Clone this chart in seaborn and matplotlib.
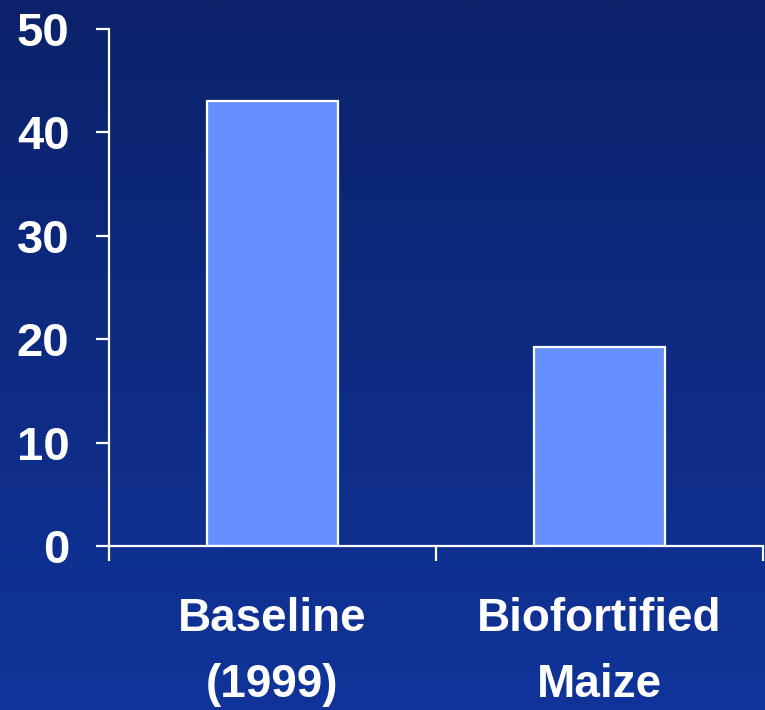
import numpy as np
import matplotlib
matplotlib.use("Agg")
import matplotlib.pyplot as plt
import seaborn as sns

categories = ["Baseline\n(1999)", "Biofortified\nMaize"]
values = [43, 19.2]
yticks = [0, 10, 20, 30, 40, 50]

sns.set_style("ticks")
plt.rcParams['font.family'] = ['Liberation Sans', 'DejaVu Sans']
plt.rcParams['font.weight'] = 'bold'

fig = plt.figure(figsize=(7.65, 7.10), dpi=100)

# gradient background
bg = fig.add_axes([0, 0, 1, 1], zorder=-10)
top = np.array([0x0b, 0x22, 0x6a]) / 255
bot = np.array([0x10, 0x34, 0x9a]) / 255
t = np.linspace(0, 1, 256)[:, None]
grad = (top[None, :] * (1 - t) + bot[None, :] * t)[:, None, :]
bg.imshow(grad, aspect='auto', extent=[0, 1, 0, 1])
bg.set_axis_off()

ax = fig.add_axes([109/765, 1 - 546/710, (763-109)/765, (546-29)/710])
ax.patch.set_alpha(0)

sns.barplot(x=categories, y=values, color="#668fff", saturation=1,
            edgecolor="white", linewidth=1.6, width=0.4, ax=ax)

ax.set_xlim(-0.5, 1.5)
ax.set_ylim(0, 50)
ax.set_yticks(yticks)
ax.set_yticklabels([str(v) for v in yticks])
ax.set_xticks([0, 1])
ax.set_xticklabels(categories)
ax.set_xticks([-0.5, 0.5, 1.5], minor=True)
ax.set_xlabel("")
ax.set_ylabel("")

for s in ["top", "right"]:
    ax.spines[s].set_visible(False)
for s in ["left", "bottom"]:
    ax.spines[s].set_color("white")
    ax.spines[s].set_linewidth(1.6)

ax.tick_params(axis='y', colors='white', direction='out', length=9.5, width=1.6,
               pad=19, labelsize=34)
ax.tick_params(axis='x', which='major', length=0, pad=37, labelsize=33, colors='white')
ax.tick_params(axis='x', which='minor', length=11, width=1.6, color='white', direction='out')
for lab in ax.get_xticklabels() + ax.get_yticklabels():
    lab.set_fontweight('bold')
    lab.set_color('white')
for lab in ax.get_xticklabels():
    lab.set_linespacing(1.64)

fig.savefig("out.png", dpi=100)
